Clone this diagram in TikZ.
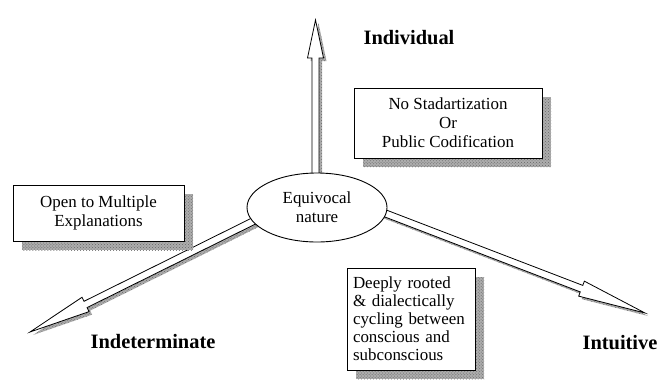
\documentclass[tikz,border=0pt]{standalone}
\usepackage{fontspec}
\setmainfont{Liberation Serif}
\usetikzlibrary{calc,shapes.geometric,shadows,patterns,backgrounds}
\definecolor{shade-gray}{gray}{0.68}
\definecolor{grain-gray}{gray}{0.4}
\tikzstyle{textbox}=[draw,fill=white,line width=0.9bp,inner sep=6bp,font=\fontsize{17}{19}\selectfont,
  drop shadow={shadow xshift=9bp,shadow yshift=-9bp,fill=shade-gray,opacity=1,
    postaction={pattern=crosshatch dots,pattern color=grain-gray}}]
\tikzstyle{axislabel}=[font=\fontsize{20.5}{23}\selectfont\bfseries]
\tikzstyle{arrowbody}=[draw,fill=white,line width=0.8bp,line join=miter]
\tikzstyle{arrowshade}=[fill=shade-gray,postaction={pattern=crosshatch dots,pattern color=grain-gray},
  transform canvas={xshift=3bp,yshift=-3bp}]
% block arrow: [options] {foot}{tip}{head length}
\newcommand{\blockarrow}[4][arrowbody]{
  \coordinate (hb) at ($(#3)!#4!(#2)$);
  \path[#1] ($(#2)!3.5bp!90:(#3)$) -- ($(hb)!3.5bp!90:(#3)$) -- ($(hb)!8bp!90:(#3)$) -- (#3)
    -- ($(hb)!8bp!-90:(#3)$) -- ($(hb)!3.5bp!-90:(#3)$) -- ($(#2)!3.5bp!-90:(#3)$) -- cycle;
}
\begin{document}
\begin{tikzpicture}[x=1bp,y=-1bp]
  \useasboundingbox (0,0) rectangle (659,385);
  \node[ellipse,draw,fill=white,line width=0.9bp,minimum width=140bp,minimum height=69bp,inner sep=0pt,
    align=center,font=\fontsize{17}{19}\selectfont] (equiv) at (317,207.5) {Equivocal\\nature};
  % feet sit inside the ellipse, tips are free ends
  \coordinate (upFoot) at (315.5,207);
  \coordinate (upTip) at (315.5,20);
  \coordinate (leftFoot) at (300,198);
  \coordinate (leftTip) at (30,332);
  \coordinate (rightFoot) at (340,196);
  \coordinate (rightTip) at (645,313);
  \begin{scope}[on background layer]
    \blockarrow[arrowshade]{upFoot}{upTip}{38bp}
    \blockarrow[arrowshade]{leftFoot}{leftTip}{62bp}
    \blockarrow[arrowshade]{rightFoot}{rightTip}{68bp}
    \blockarrow{upFoot}{upTip}{38bp}
    \blockarrow{leftFoot}{leftTip}{62bp}
    \blockarrow{rightFoot}{rightTip}{68bp}
  \end{scope}
  \node[textbox,minimum width=188bp,minimum height=70bp,align=center] (stdbox) at (448,123)
    {No Stadartization\\Or\\Public Codification};
  \node[textbox,minimum width=171bp,minimum height=56bp,align=center] (openbox) at (98.5,213)
    {Open to Multiple\\Explanations};
  \node[textbox,text width=116bp,minimum height=102bp,align=left,
    font=\fontsize{17}{18}\selectfont] (rootbox) at (411,319)
    {Deeply rooted\\\& dialectically\\cycling between\\conscious and\\subconscious};
  \node[axislabel] (indiv) at (409,38) {Individual};
  \node[axislabel] (indet) at (153,342) {Indeterminate};
  \node[axislabel] (intuit) at (620,343) {Intuitive};
\end{tikzpicture}
\end{document}
